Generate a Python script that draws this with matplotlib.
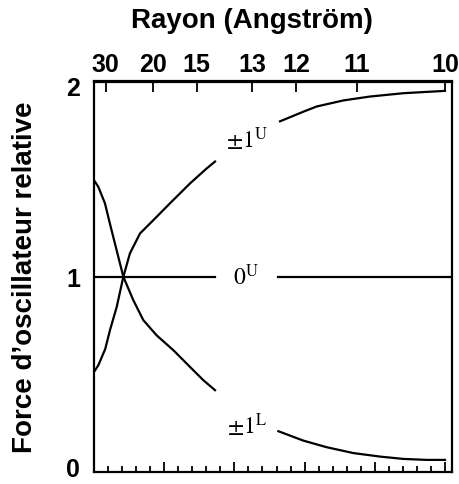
import numpy as np
import matplotlib
matplotlib.use("Agg")
import matplotlib.pyplot as plt
import matplotlib.transforms as mtransforms
from matplotlib.ticker import MultipleLocator

plt.rcParams['font.family'] = ['Liberation Sans', 'DejaVu Sans']
plt.rcParams['mathtext.fontset'] = 'stix'

# bottom (linear) scale, curves; nan = gap for label
u_upper = [0.07, 0.31, 0.8, 1.14, 1.62, 2.09, 2.56, 3.28, 4.23, 5.41, 6.84, 8.03, 8.62,
           np.nan, 13.25, 14.9, 15.86, 17.76, 19.66, 22.03, 25.0]
f_upper = [0.52, 0.547, 0.63, 0.727, 0.846, 1.0, 1.12, 1.222, 1.29, 1.376, 1.478, 1.555, 1.59,
           np.nan, 1.796, 1.845, 1.872, 1.903, 1.923, 1.94, 1.952]

u_lower = [0.07, 0.31, 0.78, 1.14, 2.09, 2.8, 3.51, 4.46, 5.65, 6.84, 7.79, 8.62,
           np.nan, 13.13, 14.9, 16.57, 18.47, 20.37, 22.03, 23.7, 25.0]
f_lower = [1.487, 1.46, 1.376, 1.27, 1.0, 0.88, 0.778, 0.70, 0.624, 0.538, 0.47, 0.419,
           np.nan, 0.209, 0.161, 0.127, 0.097, 0.079, 0.067, 0.062, 0.062]

u_zero = [0.0, 8.62, np.nan, 13.1, 25.5]
f_zero = [1.0, 1.0, np.nan, 1.0, 1.0]

# top axis: radius in Angstrom and where it falls on the bottom scale
rayon_pos = [0.83, 4.22, 7.31, 11.25, 14.39, 18.71, 25.0]
rayon_lab = ['30', '20', '15', '13', '12', '11', '10']

fig = plt.figure(figsize=(4.59, 4.85), dpi=100)
ax = fig.add_axes([94 / 459, 1 - 473 / 485, 358 / 459, 390.5 / 485])

lw = 1.6
ax.plot(u_upper, f_upper, color='black', lw=lw)
ax.plot(u_lower, f_lower, color='black', lw=lw)
ax.plot(u_zero, f_zero, color='black', lw=lw)

ax.text(10.9, 1.71, r'$\pm1^{\mathrm{U}}$', fontsize=17, ha='center', va='center')
ax.text(10.8, 1.0, r'$0^{\mathrm{U}}$', fontsize=17, ha='center', va='center')
ax.text(10.9, 0.245, r'$\pm1^{\mathrm{L}}$', fontsize=17, ha='center', va='center')

ax.set_xlim(0, 25.5)
ax.set_ylim(0, 2)
for s in ax.spines.values():
    s.set_linewidth(1.6)

ax.xaxis.set_major_locator(MultipleLocator(5))
ax.xaxis.set_minor_locator(MultipleLocator(1))
ax.tick_params(axis='x', which='major', direction='in', length=7, width=1.3, labelbottom=False)
ax.tick_params(axis='x', which='minor', direction='in', length=4, width=1.3)

ax.set_yticks([0, 1, 2])
ax.set_yticklabels(['0', '1', '2'], fontweight='bold', fontsize=18)
ax.tick_params(axis='y', length=0, pad=10)
ax.set_ylabel('Force d’oscillateur relative', fontweight='bold', fontsize=20, labelpad=20)

# nudge the "0" up a little so it stays inside the figure, "2" down a bit
ylabs = ax.get_yticklabels()
ylabs[0].set_transform(ylabs[0].get_transform() +
                       mtransforms.ScaledTranslation(0, 4 / 72, fig.dpi_scale_trans))
ylabs[2].set_transform(ylabs[2].get_transform() +
                       mtransforms.ScaledTranslation(0, -3 / 72, fig.dpi_scale_trans))

top = ax.secondary_xaxis('top')
top.set_xticks(rayon_pos)
top.set_xticklabels(rayon_lab, fontweight='bold', fontsize=18)
top.tick_params(direction='in', length=8, width=1.3, pad=4)
top.spines['top'].set_linewidth(1.6)

fig.text(252 / 459, 1 - 21 / 485, 'Rayon (Angström)', fontweight='bold', fontsize=20,
         ha='center', va='center')

fig.savefig('out.png', dpi=100)
